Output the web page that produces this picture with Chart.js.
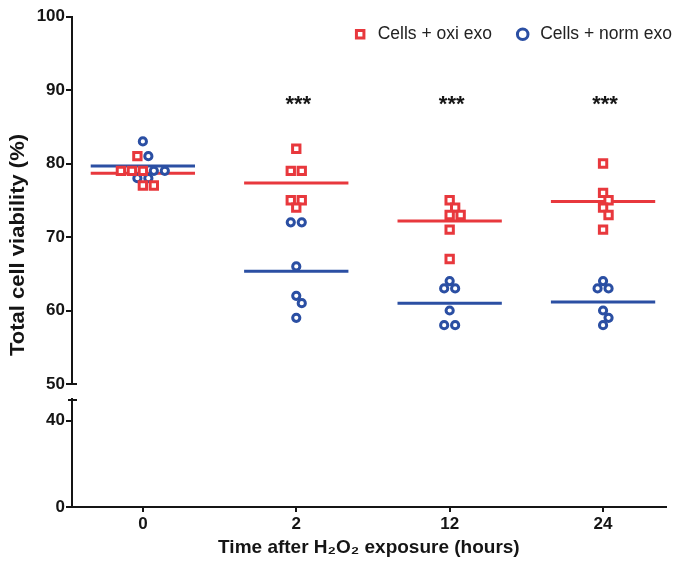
<!DOCTYPE html>
<html>
<head>
<meta charset="utf-8">
<script src="https://cdn.jsdelivr.net/npm/chart.js@4.4.1/dist/chart.umd.min.js"></script>
<style>
  html, body { margin: 0; padding: 0; background: #fff; }
</style>
</head>
<body>
<canvas id="viabilityChart" width="674" height="564"></canvas>
<script>
const timeLabels = ['0', '2', '12', '24'];
// single wells per time point (%)
const oxiExo = [
    [81, 79, 79, 79, 77, 77],
    [82, 79, 79, 75, 75, 74],
    [75, 74, 73, 73, 71, 67],
    [80, 76, 75, 74, 73, 71]
];
const normExo = [
    [83, 81, 79, 79, 78, 78],
    [72, 72, 66, 62, 61, 59],
    [64, 63, 63, 60, 58, 58],
    [64, 63, 63, 60, 59, 58]
];
const significance = ['', '***', '***', '***'];
const upperTicks = [50, 60, 70, 80, 90, 100];
const lowerTicks = [0, 40];

const RED = '#e8383d';
const BLUE = '#2b4fa3';
const INK = '#151515';

Chart.defaults.font.family = "'Liberation Sans', Arial, sans-serif";
Chart.defaults.color = INK;

// beeswarm: spread equal / close values sideways like the prism dot plot
const PX_X = 153.7, PX_Y = 7.35, DOT = 11;
function swarm(seriesList) {
    const out = seriesList.map(() => []);
    timeLabels.forEach((_, gi) => {
        const pts = [];
        seriesList.forEach((s, si) => s[gi].forEach(v => pts.push({ si, v })));
        const placed = [];
        const levels = [...new Set(pts.map(p => p.v))].sort((a, b) => b - a);
        levels.forEach(v => {
            const row = pts.filter(p => p.v === v);
            const n = row.length;
            for (let k = 0; k < 40; k++) {
                const shift = (k === 0 ? 0 : (k % 2 ? 1 : -1) * Math.ceil(k / 2)) * DOT / 2;
                const xs = row.map((p, i) => shift + (i - (n - 1) / 2) * DOT);
                const hit = xs.some(x => placed.some(q => Math.hypot(x - q.x, (v - q.v) * PX_Y) < DOT * 0.8));
                if (!hit) {
                    xs.forEach((x, i) => {
                        placed.push({ x, v });
                        out[row[i].si].push({ x: gi + x / PX_X, y: v });
                    });
                    break;
                }
            }
        });
    });
    return out;
}

function meanLine(series) {
    const data = [];
    series.forEach((vals, gi) => {
        const m = vals.reduce((a, b) => a + b, 0) / vals.length;
        data.push({ x: gi - 0.34, y: m }, { x: gi + 0.34, y: m }, { x: gi + 0.5, y: null });
    });
    return data;
}

const [oxiPts, normPts] = swarm([oxiExo, normExo]);

const extras = {
    id: 'extras',
    afterLayout(chart) {
        // legend sits inside the plot, over the top of the data area
        const lg = chart.legend;
        lg.bottom = lg.top + 50;
        lg.height = 50;
    },
    afterDraw(chart) {
        const { ctx, scales, chartArea } = chart;
        const ax = chartArea.left;
        ctx.save();
        // axis break caps
        ctx.strokeStyle = INK;
        ctx.lineWidth = 2;
        ctx.beginPath();
        ctx.moveTo(ax, scales.y.bottom);
        ctx.lineTo(ax + 5, scales.y.bottom);
        ctx.moveTo(ax - 4, scales.yLow.top + 1);
        ctx.lineTo(ax + 5, scales.yLow.top + 1);
        ctx.stroke();
        // significance stars
        ctx.fillStyle = INK;
        ctx.font = "bold 22px 'Liberation Sans', Arial, sans-serif";
        ctx.textAlign = 'center';
        ctx.textBaseline = 'alphabetic';
        significance.forEach((s, gi) => {
            if (!s) return;
            ctx.fillText(s, scales.x.getPixelForValue(gi) + 2, scales.y.getPixelForValue(88.4) + 9.5);
        });
        // y title (glyphs a little narrow, as in the original figure)
        ctx.font = "bold 22px 'Liberation Sans', Arial, sans-serif";
        ctx.textBaseline = 'middle';
        ctx.translate(19, 245);
        ctx.rotate(-Math.PI / 2);
        ctx.scale(1, 0.88);
        ctx.fillText('Total cell viability (%)', 0, 0);
        ctx.restore();
    }
};

const fixWidth = s => { s.width = 72; };
const axisGrid = { drawOnChartArea: false, color: INK, lineWidth: 2, tickLength: 6 };
const tickFont = { size: 17, weight: 'bold' };

const pointSet = { xAxisID: 'x', yAxisID: 'y', backgroundColor: '#fff', borderWidth: 3 };
const meanSet = { xAxisID: 'x', yAxisID: 'y', showLine: true, borderWidth: 3, pointRadius: 0 };

new Chart(document.getElementById('viabilityChart'), {
    type: 'scatter',
    data: {
        datasets: [
            { ...pointSet, label: 'Cells + oxi exo', data: oxiPts, pointStyle: 'rect', pointRadius: 5.2, borderColor: RED },
            { ...pointSet, label: 'Cells + norm exo', data: normPts, pointStyle: 'circle', pointRadius: 3.6, borderColor: BLUE },
            { ...meanSet, label: 'oxi mean', data: meanLine(oxiExo), borderColor: RED },
            { ...meanSet, label: 'norm mean', data: meanLine(normExo), borderColor: BLUE }
        ]
    },
    options: {
        responsive: false,
        animation: false,
        events: [],
        layout: { padding: { top: 3.5, left: 0, right: -20, bottom: 0 } },
        scales: {
            x: {
                type: 'linear',
                min: -0.462,
                max: 3.409,
                afterBuildTicks: s => { s.ticks = timeLabels.map((_, i) => ({ value: i })); },
                afterFit: s => { s.height = 57; s.paddingLeft = 0; s.paddingRight = 0; },
                ticks: { callback: v => timeLabels[v], font: tickFont, padding: 2 },
                grid: { ...axisGrid, tickLength: 5 },
                border: { color: INK, width: 2 },
                title: {
                    display: true,
                    text: 'Time after H\u2082O\u2082 exposure (hours)',
                    font: { size: 19, weight: 'bold' },
                    padding: { top: 2, bottom: 5 }
                }
            },
            // left axes stack bottom-up: lower part, break gap, upper part
            yLow: {
                type: 'linear',
                stack: 'viability',
                stackWeight: 108,
                min: 0,
                max: 50,
                afterBuildTicks: s => { s.ticks = lowerTicks.map(v => ({ value: v })); },
                afterFit: fixWidth,
                ticks: { font: tickFont, padding: 1 },
                grid: axisGrid,
                border: { color: INK, width: 2 }
            },
            yGap: {
                type: 'linear',
                stack: 'viability',
                stackWeight: 15,
                min: 0,
                max: 1,
                afterFit: fixWidth,
                ticks: { display: false },
                grid: { display: false },
                border: { display: false }
            },
            y: {
                type: 'linear',
                stack: 'viability',
                stackWeight: 367.5,
                min: 50,
                max: 100,
                afterBuildTicks: s => { s.ticks = upperTicks.map(v => ({ value: v })); },
                afterFit: fixWidth,
                ticks: { font: tickFont, padding: 1 },
                grid: axisGrid,
                border: { color: INK, width: 2 }
            }
        },
        plugins: {
            tooltip: { enabled: false },
            legend: {
                position: 'top',
                align: 'end',
                maxHeight: 13,
                labels: {
                    filter: item => item.datasetIndex < 2,
                    usePointStyle: true,
                    boxWidth: 17.5,
                    boxHeight: 7.5,
                    padding: 22,
                    color: '#222',
                    font: { size: 17.5 }
                }
            }
        }
    },
    plugins: [extras]
});
</script>
</body>
</html>
